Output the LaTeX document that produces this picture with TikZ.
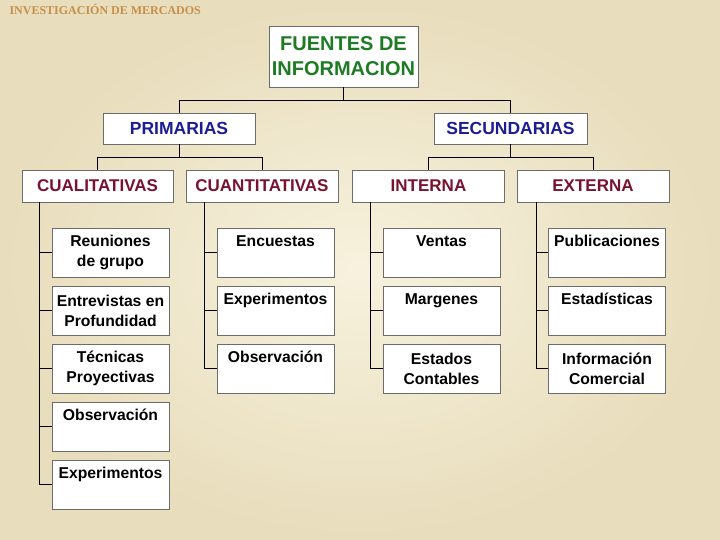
\documentclass[tikz,border=0pt]{standalone}
\usepackage{fontspec}
\setmainfont{Liberation Sans}
\newfontfamily\titulofont{Liberation Serif}
\usetikzlibrary{positioning}
\definecolor{verde}{HTML}{1E7B24}
\definecolor{azul}{HTML}{1C1C96}
\definecolor{granate}{HTML}{78122E}
\definecolor{dorado}{HTML}{C68F4A}
\definecolor{pergaminoA}{HTML}{F7F2DE}
\definecolor{pergaminoB}{HTML}{E8DDBC}
\begin{document}
\begin{tikzpicture}[x=1pt,y=1pt,
	caja/.style={draw=gray!85!black, fill=white, line width=0.8pt, inner sep=0pt, align=center},
	raiz/.style={caja, minimum width=149pt, minimum height=61pt, text=verde, font=\bfseries\fontsize{20}{25}\selectfont},
	nivel/.style={caja, minimum width=152pt, minimum height=31pt, text=azul, font=\bfseries\fontsize{17.5}{20}\selectfont},
	tipo/.style={caja, minimum width=152pt, minimum height=32pt, text=granate, font=\bfseries\fontsize{17}{20}\selectfont},
	hoja/.style={caja, minimum width=117pt, minimum height=49pt, font=\bfseries\fontsize{15.7}{20}\selectfont},
	rama/.style={line width=0.8pt}]
	% fondo
	\fill[inner color=pergaminoA, outer color=pergaminoB] (0,0) rectangle (720,-540);
	\useasboundingbox (0,0) rectangle (720,-540);
	\node[anchor=west, text=dorado, font=\titulofont\bfseries\fontsize{12}{14}\selectfont] (titulo) at (6,-9) {INVESTIGACIÓN DE MERCADOS};
	
	% raiz y primer nivel
	\node[raiz] (fuentes) at (343.5,-56.5) {FUENTES DE\\INFORMACION};
	\node[nivel] (prim) at (179,-128.5) {PRIMARIAS};
	\node[nivel, minimum width=153pt] (sec) at (510.5,-128.5) {SECUNDARIAS};
	
	% tipos
	\node[tipo, minimum width=151pt] (cual) at (97.5,-186) {CUALITATIVAS};
	\node[tipo] (cuant) at (262,-186) {CUANTITATIVAS};
	\node[tipo] (inter) at (428.5,-186) {INTERNA};
	\node[tipo] (exter) at (593,-186) {EXTERNA};
	
	% hojas cualitativas
	\node[hoja] (cual1) at (110.5,-252.5) {Reuniones\\de grupo};
	\node[hoja, below=8.2pt of cual1] (cual2) {Entrevistas en\\Profundidad};
	\node[hoja, below=8.2pt of cual2] (cual3) {Técnicas\\Proyectivas};
	\node[hoja, below=8.2pt of cual3] (cual4) {Observación\\\phantom{Ag}};
	\node[hoja, below=8.2pt of cual4] (cual5) {Experimentos\\\phantom{Ag}};
	
	% hojas cuantitativas
	\node[hoja] (cuant1) at (275.5,-252.5) {Encuestas\\\phantom{Ag}};
	\node[hoja, below=8.2pt of cuant1] (cuant2) {Experimentos\\\phantom{Ag}};
	\node[hoja, below=8.2pt of cuant2] (cuant3) {Observación\\\phantom{Ag}};
	
	% hojas interna
	\node[hoja] (inter1) at (441.5,-252.5) {Ventas\\\phantom{Ag}};
	\node[hoja, below=8.2pt of inter1] (inter2) {Margenes\\\phantom{Ag}};
	\node[hoja, below=8.2pt of inter2] (inter3) {Estados\\Contables};
	
	% hojas externa
	\node[hoja] (exter1) at (607,-252.5) {Publicaciones\\\phantom{Ag}};
	\node[hoja, below=8.2pt of exter1] (exter2) {Estadísticas\\\phantom{Ag}};
	\node[hoja, below=8.2pt of exter2] (exter3) {Información\\Comercial};
	
	% conectores superiores
	\draw[rama] (fuentes.south) -- ++(0,-13) coordinate (f1);
	\draw[rama] (prim.north) |- (f1) -| (sec.north);
	\draw[rama] (prim.south) -- ++(0,-13) coordinate (p1);
	\draw[rama] (cual.north) |- (p1) -| (cuant.north);
	\draw[rama] (sec.south) -- ++(0,-13) coordinate (s1);
	\draw[rama] (inter.north) |- (s1) -| (exter.north);
	
	% troncos
	\coordinate (tcual) at ([xshift=-12pt]cual1.west);
	\coordinate (tcuant) at ([xshift=-12pt]cuant1.west);
	\coordinate (tinter) at ([xshift=-12pt]inter1.west);
	\coordinate (texter) at ([xshift=-12pt]exter1.west);
	\draw[rama] (tcual |- cual.south) |- (cual5.west);
	\foreach \i in {1,...,4} \draw[rama] (tcual |- cual\i.west) -- (cual\i.west);
	\draw[rama] (tcuant |- cuant.south) |- (cuant3.west);
	\draw[rama] (tinter |- inter.south) |- (inter3.west);
	\draw[rama] (texter |- exter.south) |- (exter3.west);
	\foreach \i in {1,2} {
		\draw[rama] (tcuant |- cuant\i.west) -- (cuant\i.west);
		\draw[rama] (tinter |- inter\i.west) -- (inter\i.west);
		\draw[rama] (texter |- exter\i.west) -- (exter\i.west);
	}
\end{tikzpicture}
\end{document}
